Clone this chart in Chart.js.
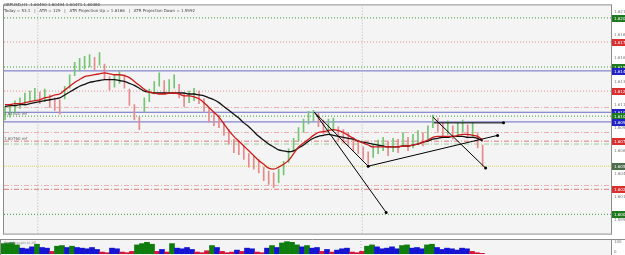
<!DOCTYPE html>
<html>
<head>
<meta charset="utf-8">
<script src="https://cdn.jsdelivr.net/npm/chart.js@4.4.0/dist/chart.umd.min.js"></script>
<style>
  html, body { margin: 0; padding: 0; background: #fff; }
  canvas { display: block; }
</style>
</head>
<body>
<canvas id="main" width="625" height="239"></canvas>
<canvas id="sub" width="625" height="16"></canvas>
<script>
// GBPUSD H1 bars (one bar per slot)
const highs = [1.6112,1.6114,1.6118,1.6121,1.6126,1.6128,1.6131,1.6127,1.6130,1.6124,
  1.6121,1.6119,1.6133,1.6145,1.6158,1.6162,1.6164,1.6166,1.6163,1.6168,
  1.6156,1.6143,1.6144,1.6149,1.6145,1.6130,1.6114,1.6101,1.6121,1.6130,
  1.6138,1.6147,1.6139,1.6140,1.6145,1.6135,1.6126,1.6128,1.6131,1.6128,
  1.6120,1.6110,1.6106,1.6103,1.6096,1.6088,1.6078,1.6076,1.6071,1.6063,
  1.6061,1.6057,1.6049,1.6045,1.6043,1.6047,1.6055,1.6068,1.6079,1.6090,
  1.6099,1.6107,1.6108,1.6105,1.6098,1.6099,1.6100,1.6091,1.6088,1.6085,
  1.6080,1.6077,1.6070,1.6065,1.6073,1.6077,1.6080,1.6075,1.6079,1.6078,
  1.6085,1.6080,1.6083,1.6087,1.6085,1.6092,1.6103,1.6100,1.6095,1.6097,
  1.6092,1.6095,1.6098,1.6093,1.6095,1.6084,1.6072];
const lows = [1.6098,1.6101,1.6105,1.6110,1.6113,1.6117,1.6118,1.6115,1.6117,1.6111,
  1.6108,1.6104,1.6120,1.6131,1.6144,1.6149,1.6151,1.6153,1.6150,1.6155,
  1.6141,1.6129,1.6132,1.6136,1.6131,1.6113,1.6098,1.6088,1.6106,1.6117,
  1.6125,1.6133,1.6126,1.6127,1.6131,1.6121,1.6112,1.6116,1.6118,1.6115,
  1.6106,1.6096,1.6092,1.6090,1.6082,1.6073,1.6064,1.6062,1.6057,1.6049,
  1.6047,1.6043,1.6035,1.6031,1.6028,1.6033,1.6041,1.6054,1.6065,1.6076,
  1.6085,1.6094,1.6097,1.6091,1.6084,1.6086,1.6086,1.6077,1.6074,1.6071,
  1.6066,1.6063,1.6057,1.6052,1.6059,1.6063,1.6066,1.6061,1.6065,1.6064,
  1.6071,1.6066,1.6069,1.6073,1.6071,1.6078,1.6090,1.6086,1.6081,1.6083,
  1.6078,1.6081,1.6085,1.6079,1.6081,1.6069,1.6050];

// moving averages as drawn (red = fast, black = slow)
const redMA = [1.6114,1.6114,1.6115,1.6115,1.6116,1.6117,1.6118,1.6119,1.6121,1.6122,
  1.6124,1.6125,1.6129,1.6133,1.6137,1.6140,1.6143,1.6144,1.6145,1.6146,
  1.6147,1.6146,1.6145,1.6145,1.6144,1.6142,1.6138,1.6134,1.6130,1.6127,
  1.6126,1.6125,1.6125,1.6126,1.6126,1.6125,1.6123,1.6123,1.6122,1.6120,
  1.6116,1.6111,1.6106,1.6101,1.6094,1.6087,1.6081,1.6076,1.6071,1.6066,
  1.6061,1.6056,1.6052,1.6048,1.6047,1.6049,1.6052,1.6056,1.6063,1.6070,
  1.6074,1.6078,1.6082,1.6085,1.6086,1.6087,1.6088,1.6087,1.6085,1.6082,
  1.6079,1.6076,1.6074,1.6072,1.6070,1.6070,1.6070,1.6070,1.6070,1.6070,
  1.6071,1.6071,1.6072,1.6073,1.6075,1.6077,1.6080,1.6081,1.6081,1.6081,
  1.6081,1.6082,1.6083,1.6083,1.6082,1.6081,1.6077];
const blackMA = [1.6112,1.6113,1.6113,1.6114,1.6114,1.6115,1.6116,1.6117,1.6118,1.6119,
  1.6120,1.6121,1.6124,1.6127,1.6130,1.6133,1.6135,1.6137,1.6138,1.6139,
  1.6140,1.6140,1.6140,1.6139,1.6138,1.6136,1.6134,1.6131,1.6128,1.6127,
  1.6126,1.6126,1.6126,1.6126,1.6126,1.6126,1.6126,1.6125,1.6125,1.6124,
  1.6123,1.6121,1.6119,1.6116,1.6112,1.6108,1.6104,1.6100,1.6095,1.6091,
  1.6086,1.6081,1.6077,1.6073,1.6070,1.6067,1.6066,1.6065,1.6066,1.6069,
  1.6072,1.6076,1.6079,1.6081,1.6082,1.6083,1.6082,1.6081,1.6080,1.6079,
  1.6078,1.6076,1.6075,1.6074,1.6073,1.6072,1.6071,1.6070,1.6070,1.6070,
  1.6071,1.6071,1.6072,1.6073,1.6075,1.6076,1.6078,1.6079,1.6080,1.6080,
  1.6081,1.6081,1.6081,1.6080,1.6080,1.6079,1.6076];

// lower window histogram (0..100)
const histo = [80,85,88,70,45,40,55,75,50,45, 20,60,65,50,60,50,45,40,50,35,
  15,10,45,40,15,10,20,70,80,90, 75,20,35,15,80,45,40,50,35,15,
  10,25,65,50,20,10,15,30,20,45, 40,15,10,45,65,50,85,95,90,70,
  55,65,45,50,20,35,15,30,40,45, 15,10,20,60,70,55,40,45,55,40,
  65,70,45,50,40,70,75,50,35,45, 40,30,45,40,20,10,5];
const subTicks = [0, 100];

// horizontal levels
const levelPrices = [1.6204,1.6179,1.6153,1.6149,1.6128,1.6111,1.6106,1.6102,1.6096,1.6085,1.6076,1.6073,1.6050,1.6030,1.6026,1.6000];
const levelKinds  = ['gdot','rdot','gdot','blue','rdot','pdash','blue','gdot','blue','pdash','rdash','gdash','ydot','pdash','rdash','gdot'];
const tagPrices = [1.6204,1.6179,1.6153,1.6149,1.6128,1.6106,1.6102,1.6096,1.6076,1.6050,1.6026,1.6000];
const tagKinds  = ['g','r','g','b','r','b','g','b','r','o','r','g'];
const priceTicks = [1.5994,1.6018,1.6042,1.6066,1.6090,1.6114,1.6138,1.6162,1.6186,1.6210];

// hand drawn trend lines [bar, price]
const trendLines = [
  [[62.2,1.6106],[76.6,1.6002]],
  [[62.2,1.6106],[73,1.6050]],
  [[73,1.6050],[99,1.6082]],
  [[86,1.6101],[96.6,1.6048]],
  [[86.2,1.6095],[100.2,1.6095]]
];
const vLines = [6.6, 71.8];
const refLabels = ['1.61020 ref', '1.60760 ref'];
const refPrices = [1.6102, 1.6076];

const X_MIN = -0.2, X_MAX = 121.8, Y_MIN = 1.5980, Y_MAX = 1.6217;

const lvlStyle = {
  gdot:  { c: '#3c9a3c', d: [1, 2] },
  rdot:  { c: '#e39090', d: [1, 2] },
  blue:  { c: '#6a6ac6', d: [] },
  pdash: { c: '#eab0b0', d: [5, 2, 1, 2] },
  rdash: { c: '#e07a7a', d: [5, 2, 1, 2] },
  gdash: { c: '#95d095', d: [5, 2, 1, 2] },
  ydot:  { c: '#d4d45a', d: [1, 1] }
};
const tagColor = { g: '#1f7a1f', r: '#d83030', b: '#2222c4', o: '#4d6b4d' };

Chart.defaults.font.family = "'DejaVu Sans', sans-serif";
Chart.defaults.animation = false;

const datasets = [];

levelPrices.forEach((p, i) => {
  const st = lvlStyle[levelKinds[i]];
  datasets.push({
    type: 'line', order: 10,
    data: [{ x: X_MIN, y: p }, { x: X_MAX, y: p }],
    borderColor: st.c, borderDash: st.d, borderWidth: 1, pointRadius: 0
  });
});

vLines.forEach(v => {
  datasets.push({
    type: 'line', order: 9,
    data: [{ x: v, y: Y_MIN }, { x: v, y: Y_MAX }],
    borderColor: '#b4b4b4', borderDash: [1, 2], borderWidth: 1, pointRadius: 0
  });
});

const bars = highs.map((h, i) => ({ x: i, y: [lows[i], h] }));
const barColors = highs.map((h, i) => {
  const mid = (h + lows[i]) / 2;
  const prev = i > 0 ? (highs[i - 1] + lows[i - 1]) / 2 : mid;
  return mid >= prev ? '#74c474' : '#e68a8a';
});
datasets.push({
  type: 'bar', order: 5, data: bars,
  backgroundColor: barColors, barThickness: 1
});

datasets.push({
  type: 'line', order: 3,
  data: blackMA.map((v, i) => ({ x: i, y: v })),
  borderColor: '#111', borderWidth: 1.3, pointRadius: 0, cubicInterpolationMode: 'monotone'
});
datasets.push({
  type: 'line', order: 2,
  data: redMA.map((v, i) => ({ x: i, y: v })),
  borderColor: '#cc1a1a', borderWidth: 1.3, pointRadius: 0, cubicInterpolationMode: 'monotone'
});

trendLines.forEach(seg => {
  datasets.push({
    type: 'line', order: 1,
    data: seg.map(p => ({ x: p[0], y: p[1] })),
    borderColor: '#000', borderWidth: 1,
    pointRadius: [0, 1.5], pointBackgroundColor: '#000', pointBorderWidth: 0
  });
});

const mainPlugin = {
  id: 'mainDecor',
  beforeDraw(chart) {
    const { ctx, chartArea: a } = chart;
    ctx.save();
    ctx.fillStyle = '#fff';
    ctx.fillRect(0, 0, chart.width, chart.height);
    ctx.fillStyle = '#f4f4f4';
    ctx.fillRect(a.left, a.top, a.right - a.left, a.bottom - a.top);
    ctx.restore();
  },
  afterDraw(chart) {
    const { ctx, chartArea: a } = chart;
    const ys = chart.scales.y;
    ctx.save();
    ctx.strokeStyle = '#8c8c8c';
    ctx.lineWidth = 1;
    ctx.strokeRect(a.left - 0.5, a.top - 0.5, a.right - a.left + 1, a.bottom - a.top + 1);

    // price tags on the right axis
    ctx.font = "4px 'DejaVu Sans'";
    ctx.textBaseline = 'middle';
    tagPrices.forEach((p, i) => {
      const y = Math.round(ys.getPixelForValue(p));
      ctx.fillStyle = tagColor[tagKinds[i]];
      ctx.fillRect(a.right + 1, y - 3, 14, 7);
      ctx.fillStyle = '#fff';
      ctx.fillText(p.toFixed(5), a.right + 3, y + 0.5);
    });

    // header text
    ctx.fillStyle = '#444';
    ctx.textBaseline = 'alphabetic';
    ctx.fillText('GBPUSD,H1  1.60490 1.60494 1.60471 1.60480', 4, 6);
    ctx.fillText('Today = 53.1   |   ATR = 129   |   ATR Projection Up = 1.6166   |   ATR Projection Down = 1.5992', 4, 12);

    // level reference labels
    ctx.fillStyle = '#666';
    refLabels.forEach((t, i) => {
      const y = ys.getPixelForValue(refPrices[i]);
      ctx.fillText(t, 4, y - 1);
    });
    ctx.restore();
  }
};

new Chart(document.getElementById('main'), {
  type: 'bar',
  data: { datasets },
  options: {
    responsive: false,
    devicePixelRatio: 1,
    layout: { padding: { left: 1, top: 1, right: 0, bottom: 1 } },
    plugins: { legend: { display: false }, tooltip: { enabled: false } },
    scales: {
      x: { type: 'linear', min: X_MIN, max: X_MAX, offset: false, display: false },
      y: {
        type: 'linear', position: 'right', min: Y_MIN, max: Y_MAX,
        grid: { display: false, drawTicks: false },
        border: { display: true, color: '#8c8c8c' },
        ticks: { font: { size: 4 }, color: '#777', padding: 3, callback: v => v.toFixed(5) },
        afterBuildTicks: s => { s.ticks = priceTicks.map(v => ({ value: v })); },
        afterFit: s => { s.width = 14; }
      }
    }
  },
  plugins: [mainPlugin]
});

// lower indicator window
const histColors = histo.map(v => v >= 60 ? '#0e7d0e' : (v >= 30 ? '#1414d2' : '#d3143c'));
const subSets = [];
vLines.forEach(v => {
  subSets.push({
    type: 'line', order: 9,
    data: [{ x: v, y: 0 }, { x: v, y: 100 }],
    borderColor: '#b4b4b4', borderDash: [1, 2], borderWidth: 1, pointRadius: 0
  });
});
subSets.push({
  type: 'bar', order: 1,
  data: histo.map((v, i) => ({ x: i, y: v })),
  backgroundColor: histColors, barThickness: 5
});

const subPlugin = {
  id: 'subDecor',
  beforeDraw(chart) {
    const { ctx, chartArea: a } = chart;
    ctx.save();
    ctx.fillStyle = '#fff';
    ctx.fillRect(0, 0, chart.width, chart.height);
    ctx.fillStyle = '#f4f4f4';
    ctx.fillRect(a.left, 0, a.right - a.left, chart.height);
    ctx.restore();
  },
  afterDraw(chart) {
    const { ctx, chartArea: a } = chart;
    const ys = chart.scales.y;
    ctx.save();
    ctx.strokeStyle = '#8c8c8c';
    ctx.beginPath();
    ctx.moveTo(0, 0.5); ctx.lineTo(chart.width, 0.5);
    ctx.moveTo(a.left - 0.5, 0); ctx.lineTo(a.left - 0.5, chart.height);
    ctx.moveTo(a.right + 0.5, 0); ctx.lineTo(a.right + 0.5, chart.height);
    ctx.stroke();
    ctx.fillStyle = '#777';
    ctx.font = "4px 'DejaVu Sans'";
    ctx.textBaseline = 'middle';
    subTicks.forEach(v => {
      const y = Math.min(Math.max(ys.getPixelForValue(v), 3), chart.height - 3);
      ctx.fillText(String(v), a.right + 3, y);
    });
    ctx.fillStyle = '#888';
    ctx.font = "3px 'DejaVu Sans'";
    ctx.textBaseline = 'alphabetic';
    ctx.fillText('TrendStrength(10,20)', 4, 5);
    ctx.restore();
  }
};

new Chart(document.getElementById('sub'), {
  type: 'bar',
  data: { datasets: subSets },
  options: {
    responsive: false,
    devicePixelRatio: 1,
    layout: { padding: { left: 1, top: 2, right: 0, bottom: 1 } },
    plugins: { legend: { display: false }, tooltip: { enabled: false } },
    scales: {
      x: { type: 'linear', min: X_MIN, max: X_MAX, offset: false, display: false },
      y: {
        type: 'linear', position: 'right', min: 0, max: 100,
        grid: { display: false, drawTicks: false },
        border: { display: false },
        ticks: { display: false },
        afterFit: s => { s.width = 14; }
      }
    }
  },
  plugins: [subPlugin]
});
</script>
</body>
</html>
